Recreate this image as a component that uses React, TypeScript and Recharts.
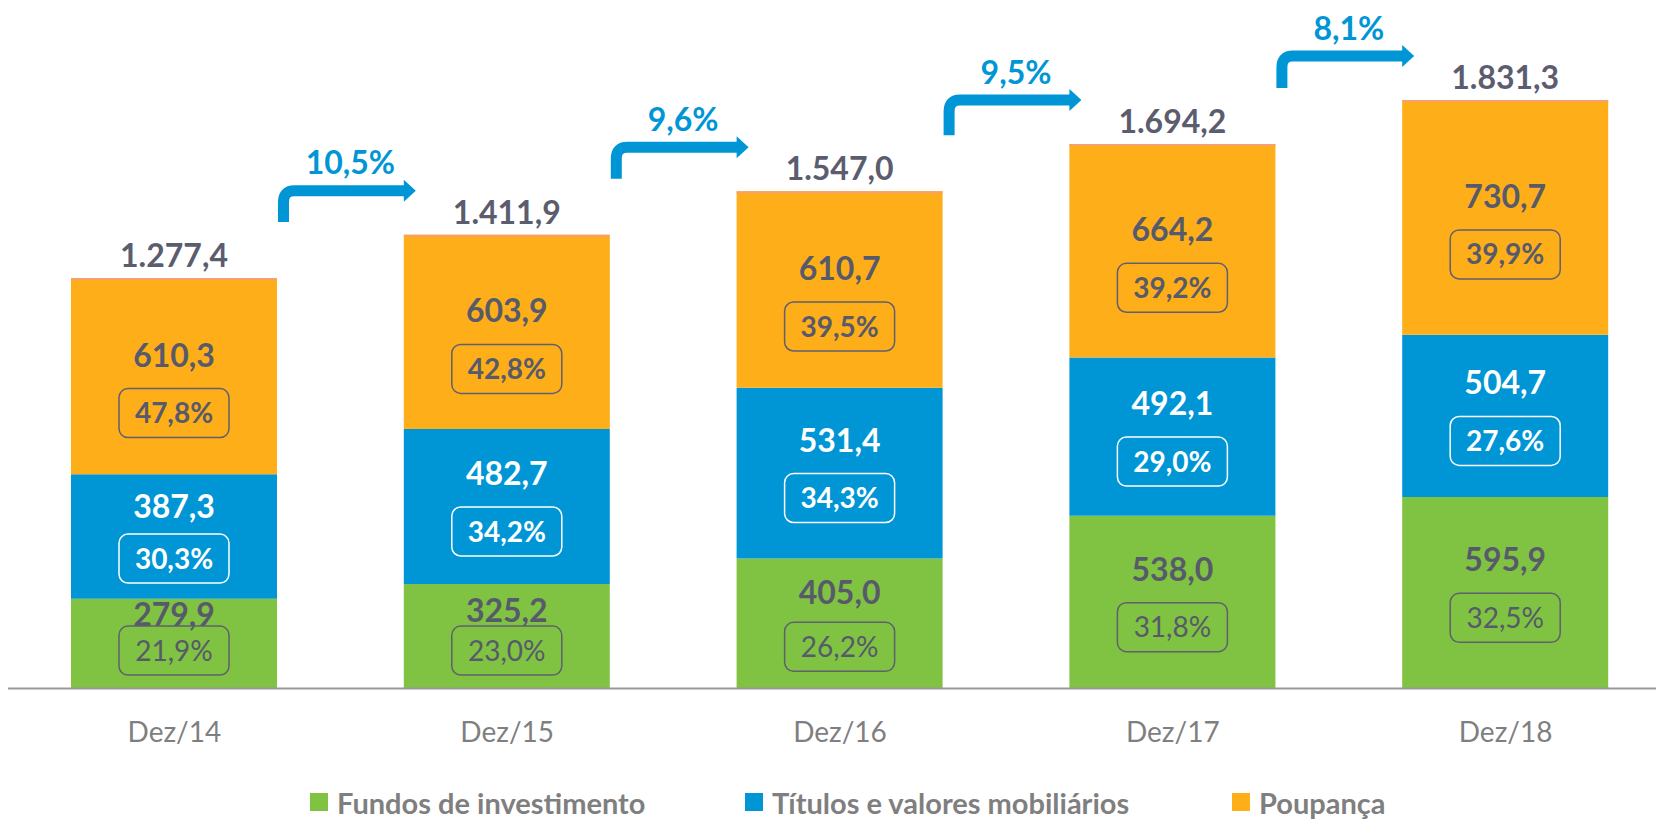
import React from 'react';
import { BarChart, Bar, XAxis, YAxis, Legend, LabelList } from 'recharts';

const categories = ['Dez/14', 'Dez/15', 'Dez/16', 'Dez/17', 'Dez/18'];
const fundos = [279.9, 325.2, 405.0, 538.0, 595.9];
const titulos = [387.3, 482.7, 531.4, 492.1, 504.7];
const poupanca = [610.3, 603.9, 610.7, 664.2, 730.7];
const fundosPct = ['21,9%', '23,0%', '26,2%', '31,8%', '32,5%'];
const titulosPct = ['30,3%', '34,2%', '34,3%', '29,0%', '27,6%'];
const poupancaPct = ['47,8%', '42,8%', '39,5%', '39,2%', '39,9%'];
const totals = [1277.4, 1411.9, 1547.0, 1694.2, 1831.3];
const growth = ['10,5%', '9,6%', '9,5%', '8,1%'];
const seriesNames = ['Fundos de investimento', 'Títulos e valores mobiliários', 'Poupança'];

const data = categories.map((name, i) => ({
  name,
  fundos: fundos[i],
  titulos: titulos[i],
  poupanca: poupanca[i],
}));

const FONT = 'Lato, "Open Sans", sans-serif';
const GREEN = '#80C241';
const BLUE = '#0096D6';
const ORANGE = '#FDAE19';
const DARK = '#575a6b';

const CHART_W = 1672;
const CHART_H = 819;
const MARGIN = { top: 45.8, right: 0, left: 8, bottom: 70.4 };
const BAND = (CHART_W - MARGIN.left - MARGIN.right) / categories.length;
const legendLeft = [310, 745, 1232];

// pt-BR style: 1.277,4
const fmt = (v: number) => {
  const [int, dec] = v.toFixed(1).split('.');
  return int.replace(/\B(?=(\d{3})+(?!\d))/g, '.') + ',' + dec;
};

type Series = 'f' | 't' | 'p';

const segLabel = (series: Series) => (props: any) => {
  const vb = props.viewBox || props;
  const x = Number(vb.x);
  const w = Number(vb.width);
  const top = Math.min(Number(vb.y), Number(vb.y) + Number(vb.height));
  const h = Math.abs(Number(vb.height));
  const bottom = top + h;
  const i = props.index as number;
  const cx = x + w / 2;

  const values = series === 'f' ? fundos : series === 't' ? titulos : poupanca;
  const pcts = series === 'f' ? fundosPct : series === 't' ? titulosPct : poupancaPct;
  const valColor = series === 't' ? '#fff' : DARK;
  const boxColor = series === 't' ? '#fff' : '#5f6070';

  // orange labels sit a bit lower in their segment
  const c = top + h / 2 + (series === 'p' ? 8 : -4);
  const gap = Math.min(58, h * 0.42);
  let boxY = c + gap / 2;
  let valY = c - gap / 2;
  if (series === 'f') {
    boxY = Math.min(boxY, bottom - 38);
    valY = Math.min(valY, boxY - 36);
  }

  const extras: React.ReactNode[] = [];
  if (series === 'p') {
    const k = h / poupanca[i];
    const zero = bottom + (titulos[i] + fundos[i]) * k;
    extras.push(
      <line key="edge" x1={x} x2={x + w} y1={top + 1} y2={top + 1} stroke="#F5A070" strokeWidth={2} />,
      <text key="tot" x={cx} y={top - 11} textAnchor="middle" fontFamily={FONT} fontWeight={700} fontSize={32} fill="#5b5d6e">
        {fmt(totals[i])}
      </text>,
    );
    if (i < categories.length - 1) {
      const nextTop = zero - (fundos[i + 1] + titulos[i + 1] + poupanca[i + 1]) * k;
      const nextLeft = x + BAND;
      const x0 = x + w + 6.5;
      const yb = top - 56;
      const yh = nextTop - 44;
      const xt = nextLeft + 12;
      const r = 11;
      extras.push(
        <g key="arrow">
          <path
            d={`M${x0},${yb} L${x0},${yh + r} Q${x0},${yh} ${x0 + r},${yh} L${xt - 11},${yh}`}
            stroke={BLUE}
            strokeWidth={11}
            fill="none"
          />
          <polygon points={`${xt - 12},${yh - 11} ${xt},${yh} ${xt - 12},${yh + 11}`} fill={BLUE} />
          <text
            x={(x + w + nextLeft) / 2 + 10}
            y={yh - 28 + 11.5}
            textAnchor="middle"
            fontFamily={FONT}
            fontWeight={700}
            fontSize={32}
            fill={BLUE}
          >
            {growth[i]}
          </text>
        </g>,
      );
    }
  }

  const boxW = 110;
  const boxH = 49;
  return (
    <g>
      {extras}
      <text x={cx} y={valY + 11.5} textAnchor="middle" fontFamily={FONT} fontWeight={700} fontSize={32} fill={valColor}>
        {fmt(values[i])}
      </text>
      <rect
        x={cx - boxW / 2}
        y={boxY - boxH / 2}
        width={boxW}
        height={boxH}
        rx={9}
        fill="none"
        stroke={boxColor}
        strokeWidth={1.5}
      />
      <text
        x={cx}
        y={boxY + 10}
        textAnchor="middle"
        fontFamily={FONT}
        fontWeight={series === 'f' ? 400 : 700}
        fontSize={28}
        fill={valColor}
      >
        {pcts[i]}
      </text>
    </g>
  );
};

const renderTick = (props: any) => {
  const { x, y, payload } = props;
  return (
    <text x={x} y={y + 43 + 10} textAnchor="middle" fontFamily={FONT} fontSize={28} fill="#7f7f7f">
      {payload.value}
    </text>
  );
};

const renderLegend = (props: any) => (
  <div style={{ position: 'relative', width: 1656, height: 40 }}>
    {(props.payload || []).map((item: any) => (
      <div
        key={item.value}
        style={{
          position: 'absolute',
          left: legendLeft[seriesNames.indexOf(item.value)],
          top: 0,
          height: 40,
          display: 'flex',
          alignItems: 'center',
          whiteSpace: 'nowrap',
        }}
      >
        <span style={{ display: 'inline-block', width: 18, height: 18, background: item.color, marginRight: 9 }} />
        <span style={{ fontFamily: FONT, fontWeight: 700, fontSize: 29, color: '#7f7f7f' }}>{item.value}</span>
      </div>
    ))}
  </div>
);

export default function App() {
  return (
    <div
      style={{
        position: 'absolute',
        left: 0,
        top: 0,
        width: 1656,
        height: 819,
        overflow: 'hidden',
        background: '#fff',
      }}
    >
      <BarChart width={CHART_W} height={CHART_H} data={data} margin={MARGIN}>
        <XAxis
          dataKey="name"
          height={60}
          tickLine={false}
          tickSize={0}
          tickMargin={0}
          axisLine={{ stroke: '#999999', strokeWidth: 2 }}
          tick={renderTick}
          interval={0}
        />
        <YAxis hide domain={[0, 2000]} />
        <Legend
          layout="horizontal"
          verticalAlign="middle"
          align="center"
          content={renderLegend}
          wrapperStyle={{ top: 782, left: 0, width: 1656, height: 40 }}
        />
        <Bar dataKey="fundos" name={seriesNames[0]} stackId="a" fill={GREEN} barSize={206} isAnimationActive={false}>
          <LabelList dataKey="fundos" content={segLabel('f')} />
        </Bar>
        <Bar dataKey="titulos" name={seriesNames[1]} stackId="a" fill={BLUE} barSize={206} isAnimationActive={false}>
          <LabelList dataKey="titulos" content={segLabel('t')} />
        </Bar>
        <Bar dataKey="poupanca" name={seriesNames[2]} stackId="a" fill={ORANGE} barSize={206} isAnimationActive={false}>
          <LabelList dataKey="poupanca" content={segLabel('p')} />
        </Bar>
      </BarChart>
    </div>
  );
}
